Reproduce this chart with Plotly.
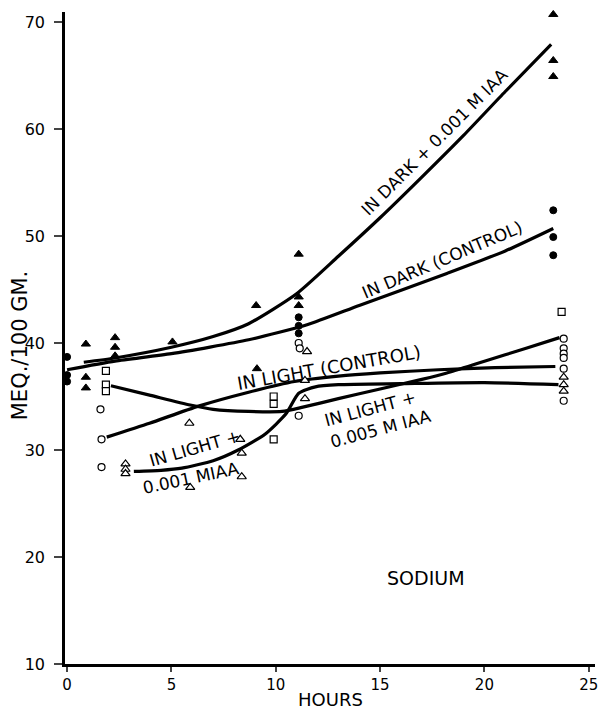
import plotly.graph_objects as go

# ---- data (hours, mEq/100 g) ----
# fitted curves
dark_iaa_x = [0.8, 2.3, 5.0, 7.0, 8.7, 11.0, 13.0, 15.0, 17.0, 19.0, 21.0, 23.2]
dark_iaa_y = [38.2, 38.6, 39.6, 40.6, 41.8, 44.6, 48.1, 51.7, 55.5, 59.4, 63.5, 67.9]

dark_ctl_x = [0.0, 2.3, 5.0, 8.7, 11.5, 14.0, 18.2, 21.0, 23.3]
dark_ctl_y = [37.5, 38.3, 39.0, 40.3, 41.7, 43.5, 46.5, 48.6, 50.7]

light_ctl_x = [1.9, 3.95, 6.3, 8.7, 10.9, 13.0, 15.0, 17.8, 20.5, 23.4]
light_ctl_y = [31.2, 32.5, 34.1, 35.4, 36.4, 36.9, 37.2, 37.5, 37.7, 37.8]

light_005_x = [2.1, 4.0, 5.9, 7.0, 8.7, 10.3, 11.3, 13.0, 15.0, 17.0, 18.2, 20.0, 22.0, 23.6]
light_005_y = [36.0, 35.1, 34.2, 33.8, 33.6, 33.6, 34.0, 34.8, 35.7, 36.6, 37.2, 38.3, 39.5, 40.5]

light_001_x = [3.2, 4.5, 5.5, 7.0, 8.2, 9.5, 10.5, 11.1, 11.9, 13.0, 16.0, 20.0, 23.55]
light_001_y = [28.0, 28.1, 28.3, 29.0, 30.0, 31.5, 33.4, 35.3, 35.9, 36.1, 36.2, 36.3, 36.1]

# observed points
filled_tri_x = [0.9, 0.9, 0.9, 2.3, 2.3, 2.3, 5.05, 9.06, 9.1, 11.1, 11.1, 11.1, 23.3, 23.3, 23.3]
filled_tri_y = [39.9, 36.8, 35.8, 40.5, 39.6, 38.8, 40.1, 43.5, 37.6, 48.3, 44.3, 43.5, 70.7, 66.4, 64.9]

filled_circ_x = [0.0, 0.0, 0.0, 11.1, 11.1, 11.1, 23.3, 23.3, 23.3]
filled_circ_y = [38.7, 37.0, 36.4, 42.4, 41.6, 40.9, 52.4, 49.9, 48.2]

open_circ_x = [1.6, 1.65, 1.65, 11.1, 11.15, 11.1, 23.8, 23.8, 23.8, 23.8, 23.8, 23.8]
open_circ_y = [33.8, 31.0, 28.4, 40.0, 39.5, 33.2, 40.4, 39.5, 39.0, 38.6, 37.6, 34.6]

open_sq_x = [1.86, 1.86, 1.86, 9.9, 9.9, 9.9, 23.7]
open_sq_y = [37.4, 36.1, 35.5, 35.0, 34.3, 31.0, 42.9]

open_tri_x = [2.8, 2.8, 2.8, 5.86, 5.9, 8.3, 8.37, 8.37, 11.5, 11.4, 11.4, 23.8, 23.8, 23.8]
open_tri_y = [28.7, 28.2, 27.8, 32.5, 26.5, 31.0, 29.7, 27.5, 39.2, 36.5, 34.8, 36.8, 36.1, 35.5]

x_ticks = [0, 5, 10, 15, 20, 25]
y_ticks = [10, 20, 30, 40, 50, 60, 70]

FONT = "DejaVu Sans"
fig = go.Figure()

for xs, ys in [(dark_iaa_x, dark_iaa_y), (dark_ctl_x, dark_ctl_y), (light_ctl_x, light_ctl_y),
               (light_005_x, light_005_y), (light_001_x, light_001_y)]:
    fig.add_trace(go.Scatter(x=xs, y=ys, mode="lines",
                             line=dict(color="black", width=3.2, shape="spline", smoothing=0.6),
                             hoverinfo="skip", showlegend=False))

def pts(xs, ys, symbol, size):
    fig.add_trace(go.Scatter(x=xs, y=ys, mode="markers", cliponaxis=False,
                             marker=dict(symbol=symbol, size=size, color="black",
                                         line=dict(color="black", width=1)),
                             showlegend=False))

def open_pts(xs, ys, symbol, size):
    fig.add_trace(go.Scatter(x=xs, y=ys, mode="markers", cliponaxis=False,
                             marker=dict(symbol=symbol, size=size, color="white",
                                         line=dict(color="black", width=1.2)),
                             showlegend=False))

pts(filled_tri_x, filled_tri_y, "triangle-up", 8)
pts(filled_circ_x, filled_circ_y, "circle", 7)
open_pts(open_circ_x, open_circ_y, "circle", 7)
open_pts(open_sq_x, open_sq_y, "square", 7)
open_pts(open_tri_x, open_tri_y, "triangle-up", 8)

ann = [
    dict(x=17.6, y=58.8, text="IN DARK + 0.001 M IAA", textangle=-45, size=17),
    dict(x=17.95, y=47.8, text="IN DARK (CONTROL)", textangle=-23, size=17),
    dict(x=12.55, y=37.7, text="IN LIGHT (CONTROL)", textangle=-10, size=18),
    dict(x=14.9, y=33.0, text="IN LIGHT +<br>0.005 M IAA", textangle=-15, size=17, align="left"),
    dict(x=6.15, y=30.2, text="IN LIGHT +", textangle=-16, size=17),
    dict(x=5.95, y=27.4, text="0.001 MIAA", textangle=-12, size=17),
    dict(x=17.2, y=18.0, text="SODIUM", textangle=0, size=19),
]
for a in ann:
    a = dict(a)
    size = a.pop("size")
    fig.add_annotation(**a, xref="x", yref="y", showarrow=False,
                       font=dict(family=FONT, size=size, color="black"),
                       xanchor="center", yanchor="middle")

fig.add_annotation(text="MEQ./100 GM.", xref="paper", yref="paper",
                   x=(20 - 65) / 533, y=(664 - 345) / 652, textangle=-90,
                   xanchor="center", yanchor="middle",
                   showarrow=False, font=dict(family=FONT, size=21, color="black"))
fig.add_annotation(text="HOURS", xref="paper", yref="paper",
                   x=(332 - 65) / 533, y=(664 - 699) / 652,
                   xanchor="center", yanchor="middle",
                   showarrow=False, font=dict(family=FONT, size=18, color="black"))

fig.update_layout(
    width=601, height=710,
    margin=dict(l=65, r=3, t=12, b=46),
    paper_bgcolor="white", plot_bgcolor="white",
    xaxis=dict(range=[-0.1, 25.3], tickvals=x_ticks, ticks="outside", ticklen=5, tickwidth=2,
               showline=True, linecolor="black", linewidth=2.5, showgrid=False, zeroline=False,
               ticklabeloverflow="allow",
               tickfont=dict(family=FONT, size=15, color="black")),
    yaxis=dict(range=[10, 70.93], tickvals=y_ticks, ticks="outside", ticklen=8, tickwidth=2,
               showline=True, linecolor="black", linewidth=2.5, showgrid=False, zeroline=False,
               ticklabelstandoff=6,
               tickfont=dict(family=FONT, size=16, color="black")),
)

fig.write_html("out.html")
